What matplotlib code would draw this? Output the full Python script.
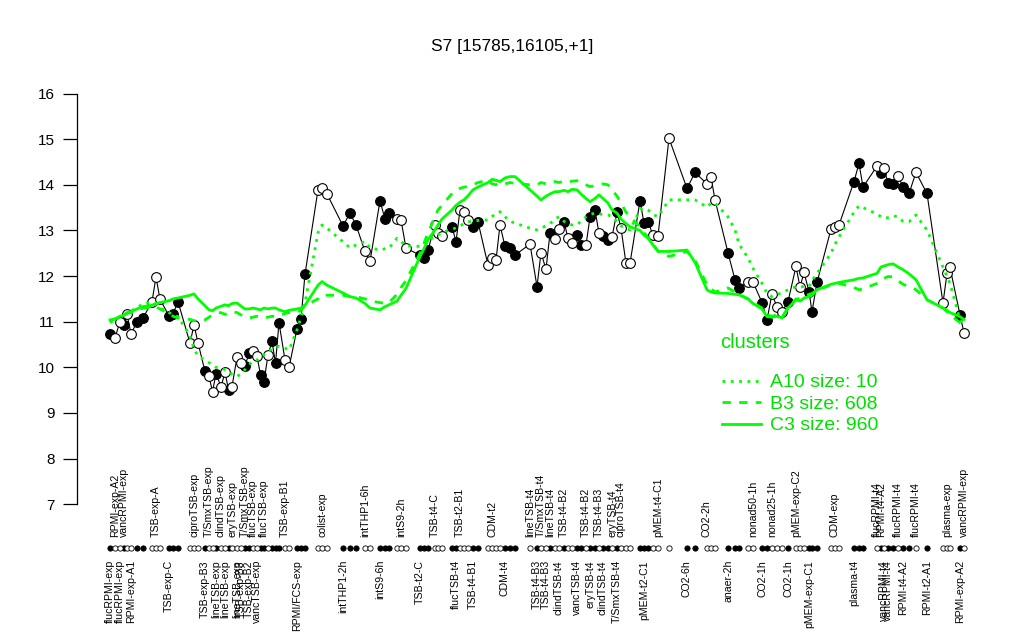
import numpy as np
import matplotlib
matplotlib.use('Agg')
import matplotlib.pyplot as plt
import matplotlib.transforms as mtransforms
from matplotlib.lines import Line2D

plt.rcParams['font.family'] = ['Liberation Sans', 'DejaVu Sans']

# ------ data ------
# sample position along the x axis (samples sit in groups with gaps between them)
pos = [110, 115, 120, 124, 127, 131, 137, 143,
       152, 156, 160,
       169, 173, 178,
       190, 194, 198,
       205, 209, 212.5, 216, 221, 225, 228.5, 232, 237, 241, 245, 249, 253, 257, 260.5, 264, 268, 272, 275.5, 279, 285, 289,
       297, 301, 305,
       318, 322, 327,
       343, 350, 356,
       365, 370,
       380, 385, 389,
       397, 401, 406,
       420, 424, 428,
       435, 438, 442,
       452, 456, 460, 464, 468, 473, 478,
       488, 492, 496, 500, 505, 510, 515,
       530, 537, 541, 546, 550, 555, 559, 564, 568, 572, 577, 581, 586, 590, 595, 599, 603, 608, 612, 617, 621, 626, 630,
       640, 644, 648, 653, 658,
       669,
       687, 695,
       707, 711, 715,
       728, 735, 739,
       748, 753,
       762, 767,
       772, 777, 782,
       788,
       796, 800, 804,
       809, 812, 817,
       831, 835, 839,
       854, 859, 863,
       877, 881, 884, 888, 893, 898, 903, 909, 916,
       927,
       943, 947, 950,
       960, 964]

# expression of the region in each sample
value = [10.73, 10.65, 11.00, 10.93, 11.17, 10.73, 11.00, 11.08,
         11.44, 11.98, 11.49,
         11.13, 11.17, 11.44,
         10.53, 10.93, 10.54,
         9.91, 9.80, 9.47, 9.86, 9.58, 9.89, 9.51, 9.58, 10.22, 10.09, 10.03, 10.31, 10.35, 10.24, 9.84, 9.69, 10.27, 10.57, 10.09, 10.98, 10.16, 10.00,
         10.84, 11.06, 12.04,
         13.89, 13.94, 13.80,
         13.10, 13.38, 13.12,
         12.54, 12.32,
         13.65, 13.25, 13.38,
         13.25, 13.23, 12.61,
         12.46, 12.40, 12.57,
         13.12, 12.94, 12.88,
         13.08, 12.75, 13.45, 13.40, 13.23, 13.08, 13.19,
         12.24, 12.39, 12.35, 13.12, 12.65, 12.61, 12.46,
         12.70, 11.77, 12.51, 12.15, 12.94, 12.81, 13.03, 13.19, 12.83, 12.73, 12.90, 12.68, 12.68, 13.29, 13.45, 12.94, 12.88, 12.78, 12.86, 13.41, 13.05, 12.28, 12.28,
         13.65, 13.16, 13.19, 12.90, 12.88,
         15.02,
         13.92, 14.27,
         14.02, 14.17, 13.67,
         12.51, 11.92, 11.73,
         11.88, 11.87,
         11.42, 11.04,
         11.61, 11.32, 11.22,
         11.44,
         12.21, 11.76, 12.08,
         11.66, 11.22, 11.86,
         13.03, 13.07, 13.12,
         14.07, 14.47, 13.95,
         14.41, 14.25, 14.36, 14.03, 14.02, 14.19, 13.96, 13.81, 14.27,
         13.81,
         11.41, 12.06, 12.19,
         11.15, 10.76]

# 1 = filled circle, 0 = open circle
filled = [1, 0, 0, 1, 0, 0, 1, 1,
          0, 0, 0,
          1, 1, 1,
          0, 0, 0,
          1, 0, 0, 1, 0, 0, 1, 0, 0, 0, 1, 1, 0, 0, 1, 1, 0, 1, 1, 1, 0, 0,
          1, 1, 1,
          0, 0, 0,
          1, 1, 1,
          0, 0,
          1, 1, 1,
          0, 0, 0,
          1, 1, 1,
          0, 0, 0,
          1, 1, 0, 0, 0, 1, 1,
          0, 0, 0, 0, 1, 1, 1,
          0, 1, 0, 0, 1, 0, 0, 1, 0, 0, 1, 1, 0, 1, 1, 0, 1, 1, 0, 1, 0, 0, 0,
          1, 1, 1, 0, 0,
          0,
          1, 1,
          0, 0, 0,
          1, 1, 1,
          0, 0,
          1, 1,
          0, 0, 0,
          1,
          0, 0, 0,
          1, 1, 1,
          0, 0, 0,
          1, 1, 1,
          0, 1, 0, 1, 1, 0, 1, 1, 0,
          1,
          0, 0, 0,
          1, 0]

# cluster profiles
a10 = [10.98, 11.04, 11.10, 11.14, 11.20, 11.24, 11.30, 11.40,
       11.42, 11.36, 11.30,
       11.20, 11.15, 11.11,
       10.70, 10.40, 10.25,
       10.16, 10.10, 10.05, 10.00, 9.98, 9.95, 9.90, 9.85, 9.80, 9.86, 9.95, 10.05, 10.15, 10.16, 10.22, 10.28, 10.34, 10.40, 10.45, 10.46, 10.42, 10.38,
       10.82, 11.10, 11.41,
       12.95, 13.12, 13.05,
       12.75, 12.62, 12.68,
       12.76, 12.62,
       12.57, 12.60, 12.61,
       12.83, 12.76, 12.66,
       12.65, 12.72, 12.80,
       12.85, 12.90, 12.96,
       13.02, 13.06, 13.10, 13.15, 13.19, 13.20, 13.22,
       13.23, 13.30, 13.38, 13.41, 13.30, 13.20, 13.16,
       13.05, 13.01, 13.05, 13.10, 13.15, 13.25, 13.30, 13.20, 13.15, 13.12, 13.12, 13.20, 13.30, 13.35, 13.38, 13.36, 13.35, 13.34, 13.30, 13.20, 13.10, 13.05, 13.01,
       13.45, 13.49, 13.45, 13.35, 13.30,
       13.67,
       13.67, 13.67,
       13.51, 13.60, 13.60,
       13.30, 13.01, 12.70,
       12.40, 12.17,
       11.84, 11.62,
       11.55, 11.60, 11.63,
       11.70,
       11.77, 11.75, 11.78,
       11.77, 11.90, 12.06,
       12.50, 12.70, 12.86,
       13.40, 13.54, 13.50,
       13.36, 13.30, 13.27, 13.28, 13.32, 13.30, 13.20, 13.19, 13.34,
       13.01,
       12.20, 12.00, 11.84,
       11.04, 10.95]

b3 = [11.02, 11.06, 11.10, 11.12, 11.18, 11.20, 11.25, 11.30,
      11.30, 11.32, 11.28,
      11.18, 11.12, 11.08,
      11.05, 11.02, 11.04,
      11.04, 11.10, 11.15, 11.18, 11.20, 11.16, 11.20, 11.22, 11.20, 11.15, 11.10, 11.08, 11.10, 11.12, 11.10, 11.08, 11.10, 11.12, 11.11, 11.12, 11.18, 11.20,
      11.20, 11.25, 11.35,
      11.50, 11.59, 11.58,
      11.58, 11.55, 11.55,
      11.50, 11.45,
      11.42, 11.40, 11.42,
      11.60, 11.75, 11.90,
      12.50, 12.72, 12.95,
      13.30, 13.45, 13.55,
      13.81, 13.88, 13.92, 13.95, 13.96, 14.00, 14.05,
      14.10, 14.02, 14.00, 14.05, 14.02, 14.05, 14.03,
      14.00, 14.00, 14.05, 14.02, 14.05, 14.07, 14.05, 14.08, 14.06, 14.08, 14.09, 14.05, 14.00, 13.96, 13.98, 14.00, 14.02, 14.00, 13.90, 13.75, 13.60, 13.40, 13.30,
      13.08, 12.95, 12.85, 12.70, 12.55,
      12.43,
      12.54, 12.35,
      11.81, 11.72, 11.65,
      11.74, 11.65, 11.60,
      11.50, 11.42,
      11.30, 11.15,
      11.12, 11.15, 11.10,
      11.30,
      11.50, 11.50, 11.55,
      11.60, 11.62, 11.70,
      11.80, 11.82, 11.84,
      11.75, 11.70, 11.72,
      11.84, 11.90, 11.95, 11.99, 11.98, 11.90, 11.82, 11.77, 11.70,
      11.48,
      11.30, 11.22, 11.15,
      10.98, 10.95]

c3 = [11.04, 11.06, 11.12, 11.14, 11.20, 11.22, 11.28, 11.33,
      11.36, 11.40, 11.42,
      11.46, 11.50, 11.52,
      11.58, 11.61, 11.50,
      11.35, 11.26, 11.24, 11.30, 11.34, 11.37, 11.35, 11.40, 11.41, 11.34, 11.28, 11.28, 11.30, 11.28, 11.26, 11.30, 11.28, 11.30, 11.30, 11.26, 11.22, 11.25,
      11.28, 11.30, 11.36,
      11.80, 11.88, 11.80,
      11.63, 11.55, 11.52,
      11.40, 11.30,
      11.26, 11.33, 11.37,
      11.45, 11.58, 11.73,
      12.43, 12.60, 12.80,
      13.01, 13.12, 13.25,
      13.45, 13.55, 13.62, 13.67, 13.76, 13.89, 13.95,
      14.05, 14.12, 14.10, 14.07, 14.15, 14.18, 14.18,
      13.89, 13.75, 13.67, 13.75, 13.80, 13.85, 13.85, 13.88, 13.85, 13.90, 13.89, 13.80, 13.70, 13.63, 13.70, 13.78, 13.70, 13.60, 13.45, 13.38, 13.25, 13.15, 13.08,
      13.00, 12.90, 12.83, 12.68, 12.54,
      12.54,
      12.57, 12.30,
      11.70, 11.65, 11.63,
      11.62, 11.60, 11.59,
      11.50, 11.40,
      11.28, 11.11,
      11.10, 11.12, 11.08,
      11.30,
      11.48, 11.45, 11.52,
      11.55, 11.58, 11.70,
      11.82, 11.84, 11.86,
      11.92, 11.95, 11.96,
      12.06, 12.20, 12.22, 12.25, 12.27, 12.20, 12.14, 12.05, 11.92,
      11.48,
      11.30, 11.25, 11.20,
      11.11, 11.05]

# sample names shown above / below the strip of sample dots (index -> name)
top_labels = {1: 'RPMI-exp-A2', 3: 'vancRPMI-exp', 9: 'TSB-exp-A', 15: 'ciproTSB-exp',
              18: 'T/SmxTSB-exp', 21: 'clindTSB-exp', 24: 'eryTSB-exp', 27: 'T/SmxTSB-exp',
              29: 'flucTSB-exp', 32: 'flucTSB-exp', 37: 'TSB-exp-B1', 43: 'colist-exp',
              48: 'intTHP1-6h', 54: 'intS9-2h', 59: 'TSB-t4-C', 64: 'TSB-t2-B1', 70: 'CDM-t2',
              76: 'lineTSB-t4', 78: 'T/SmxTSB-t4', 80: 'lineTSB-t4', 83: 'TSB-t4-B2',
              88: 'TSB-t4-B2', 91: 'TSB-t4-B3', 94: 'eryTSB-t4', 96: 'ciproTSB-t4',
              103: 'pMEM-t4-C1', 107: 'CO2-2h', 114: 'nonad50-1h', 117: 'nonad25-1h',
              121: 'pMEM-exp-C2', 128: 'CDM-exp', 133: 'flucRPMI-t4', 134: 'RPMI-t4-A2',
              138: 'flucRPMI-t4', 141: 'flucRPMI-t4', 144: 'plasma-exp', 147: 'vancRPMI-exp'}

bottom_labels = {0: 'flucRPMI-exp', 2: 'flucRPMI-exp', 5: 'RPMI-exp-A1', 11: 'TSB-exp-C',
                 17: 'TSB-exp-B3', 20: 'lineTSB-exp', 22: 'lineTSB-exp', 25: 'lineTSB-exp',
                 26: 'TSB-exp-B3', 28: 'TSB-exp-B2', 30: 'vancTSB-exp', 39: 'RPMI/FCS-exp',
                 45: 'intTHP1-2h', 50: 'intS9-6h', 56: 'TSB-t2-C', 63: 'flucTSB-t4',
                 67: 'TSB-t4-B1', 73: 'CDM-t4', 77: 'TSB-t4-B3', 79: 'TSB-t4-B3',
                 82: 'clindTSB-t4', 86: 'vancTSB-t4', 89: 'eryTSB-t4', 92: 'clindTSB-t4',
                 95: 'T/SmxTSB-t4', 100: 'pMEM-t2-C1', 105: 'CO2-6h', 110: 'anaer-2h',
                 115: 'CO2-1h', 120: 'CO2-1h', 124: 'pMEM-exp-C1', 130: 'plasma-t4',
                 135: 'vancRPMI-t4', 136: 'vancRPMI-t4', 139: 'RPMI-t4-A2', 142: 'RPMI-t2-A1',
                 146: 'RPMI-exp-A2'}

clusters = ['A10 size: 10', 'B3 size: 608', 'C3 size: 960']

# ------ plot ------
pos = np.array(pos, dtype=float)
value = np.array(value)
filled = np.array(filled, dtype=bool)

GREEN = '#00ff00'
TXT_GREEN = '#00e000'

fig = plt.figure(figsize=(10.24, 6.4), dpi=100)
ax = fig.add_axes([77 / 1024, 119.3 / 640, 918 / 1024, 443.6 / 640])
ax.set_xlim(77, 995)
ax.set_ylim(6.64, 16.36)

# black profile with its points
ax.plot(pos, value, color='black', lw=0.8, zorder=2)
ax.plot(pos[filled], value[filled], 'o', ms=7, mfc='black', mec='black', mew=0.8, zorder=3)
ax.plot(pos[~filled], value[~filled], 'o', ms=7, mfc='white', mec='black', mew=0.8, zorder=3)

# cluster lines
ax.plot(pos, a10, color=GREEN, lw=2, linestyle=(0, (1, 2)), zorder=4)
ax.plot(pos, b3, color=GREEN, lw=2, linestyle=(0, (3, 3)), zorder=4)
ax.plot(pos, c3, color=GREEN, lw=2, linestyle='-', zorder=4)

# strip of sample dots and sample names under the plot
trans = mtransforms.blended_transform_factory(ax.transData, ax.transAxes)
strip_y = (520.7 - 548) / 443.6
top_y = (520.7 - 537) / 443.6
bot_y = (520.7 - 560) / 443.6
ax.plot(pos[filled], np.full(filled.sum(), strip_y), 'o', ms=3.8, mfc='black', mec='black',
        mew=0.6, transform=trans, clip_on=False)
ax.plot(pos[~filled], np.full((~filled).sum(), strip_y), 'o', ms=3.8, mfc='white', mec='black',
        mew=0.6, transform=trans, clip_on=False)
for i, name in top_labels.items():
    ax.text(pos[i], top_y, name, rotation=90, rotation_mode='anchor', ha='left', va='center',
            fontsize=7.6, transform=trans, clip_on=False)
for i, name in bottom_labels.items():
    ax.text(pos[i], bot_y, name, rotation=90, rotation_mode='anchor', ha='right', va='center',
            fontsize=7.6, transform=trans, clip_on=False)

# axes look like R base graphics: left axis only
for s in ['top', 'right', 'bottom']:
    ax.spines[s].set_visible(False)
ax.spines['left'].set_bounds(7, 16)
ax.spines['left'].set_linewidth(0.9)
ax.set_yticks(range(7, 17))
ax.tick_params(axis='y', length=10, width=0.9, labelsize=11, pad=6)
ax.set_xticks([])

fig.text(0.5, 1 - 47 / 640, 'S7 [15785,16105,+1]', ha='center', va='center', fontsize=12.5)

# legend, drawn like the R one: title line then three entries
fig.text(720 / 1024, 1 - 342 / 640, 'clusters', ha='left', va='center', fontsize=14.5,
         color=TXT_GREEN)
handles = [Line2D([], [], color=GREEN, lw=2, linestyle=(0, (1, 2))),
           Line2D([], [], color=GREEN, lw=2, linestyle=(0, (3, 3))),
           Line2D([], [], color=GREEN, lw=2, linestyle='-')]
ax.legend(handles, clusters, loc='upper left',
          bbox_to_anchor=(712 / 1024, 1 - 364 / 640), bbox_transform=fig.transFigure,
          frameon=False, fontsize=14, labelcolor=TXT_GREEN,
          handlelength=2.0, handletextpad=0.5, labelspacing=0.2, borderpad=0)

fig.savefig('out.png', dpi=100)
